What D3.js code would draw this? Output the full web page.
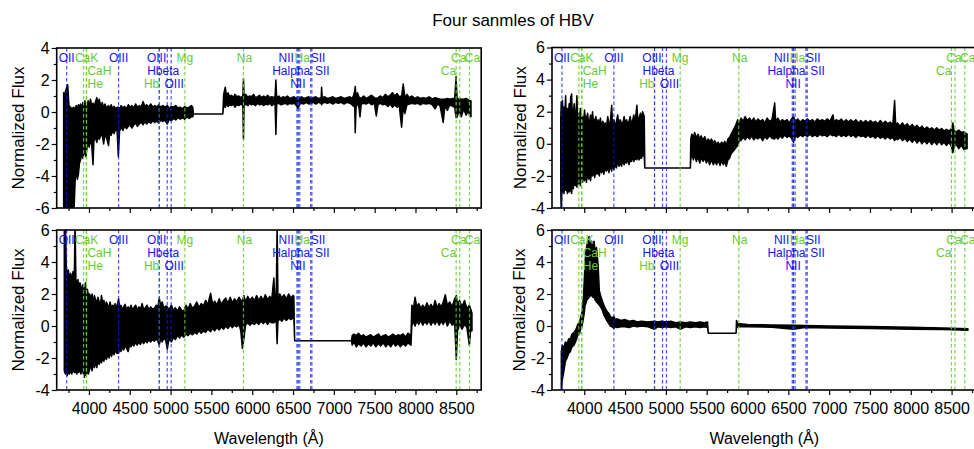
<!DOCTYPE html>
<html>
<head>
<meta charset="utf-8">
<script src="https://cdn.jsdelivr.net/npm/d3@7"></script>
<style>
body { margin: 0; background: #fff; }
svg { display: block; font-family: "Liberation Sans", Arial, sans-serif; }
</style>
</head>
<body>
<svg id="chart" width="974" height="449"></svg>
<script>
"use strict";

// line markers: [label, wavelength]
var blueLines = [
	["OII", 3727], ["OIII", 4363], ["Hbeta", 4861], ["OIII", 4959], ["OIII", 5007],
	["NII", 6548], ["Halpha", 6563], ["NII", 6583], ["SII", 6716], ["SII", 6731]
];
var greenLines = [
	["CaK", 3934], ["CaH", 3969], ["He", 3970], ["Hb", 4861], ["Mg", 5175],
	["Na", 5893], ["Ha", 6563], ["Ca", 8498], ["Ca", 8542], ["Ca", 8662]
];
// label placement: [row, anchor, nudge]
var bluePlace = [
	[0, "middle", 0], [0, "middle", 0], [1, "middle", 4], [0, "end", -1], [2, "middle", 3],
	[0, "end", -3], [1, "middle", -7], [2, "middle", -2], [0, "start", 0], [1, "start", 3]
];
var greenPlace = [
	[0, "middle", 3], [1, "start", 1], [2, "start", 1], [2, "end", 0], [0, "middle", 0],
	[0, "middle", 1], [0, "middle", 4], [1, "end", 0], [0, "middle", -1], [0, "middle", 3]
];

var xMajor = [4000, 4500, 5000, 5500, 6000, 6500, 7000, 7500, 8000, 8500];
var xMinor = [3750, 4250, 4750, 5250, 5750, 6250, 6750, 7250, 7750, 8250, 8750];

// spectra: [wavelength, lower envelope, upper envelope]
var specA = [
	[3690, -6.5, 1.2], [3700, -6.5, 0.9], [3712, -6.5, 1.3], [3740, -6.5, 1.7], [3755, -6.5, 0.4],
	[3790, -6.5, 0.2], [3815, -6.5, 0.3], [3830, -4.4, 0.1], [3843, -3.6, 0.4], [3858, -4.2, 0.2],
	[3871, -3.9, 0.45], [3884, -3.2, 0.3], [3897, -3.0, 0.5], [3912, -2.6, 0.2], [3925, -2.9, 0.6],
	[3936, -2.7, 0.35], [3951, -2.3, 0.7], [3963, -2.8, 0.25], [3977, -2.2, 0.45], [3991, -2.0, 0.7],
	[4004, -2.2, 0.3], [4019, -1.8, 0.8], [4033, -2.0, 0.4], [4050, -3.3, 0.55], [4061, -1.8, 0.3],
	[4078, -1.6, 0.6], [4097, -1.9, 0.9], [4112, -1.5, 0.5], [4126, -1.7, 0.8], [4144, -1.5, 0.35],
	[4162, -1.4, 0.6], [4180, -2.0, 0.3], [4197, -1.35, 0.5], [4214, -1.6, 0.25], [4240, -2.1, 0.4],
	[4255, -1.3, 0.2], [4273, -1.45, 0.45], [4290, -1.15, 0.2], [4308, -1.35, 0.35], [4327, -1.1, 0.2],
	[4345, -1.2, 0.3], [4360, -2.8, 0.3], [4375, -1.2, 0.2], [4394, -0.95, 0.4], [4416, -1.15, 0.25],
	[4437, -0.85, 0.35], [4460, -1.05, 0.2], [4482, -0.9, 0.45], [4503, -0.8, 0.3], [4526, -1.0, 0.4],
	[4550, -0.8, 0.25], [4571, -0.7, 0.5], [4594, -0.9, 0.3], [4617, -0.75, 0.4], [4640, -0.65, 0.3],
	[4663, -0.8, 0.65], [4686, -0.6, 0.35], [4708, -0.75, 0.45], [4731, -0.6, 0.3], [4757, -0.7, 0.5],
	[4782, -0.55, 0.3], [4806, -0.65, 0.4], [4830, -0.55, 0.3], [4855, -0.7, 0.45], [4880, -0.5, 0.3],
	[4905, -0.6, 0.4], [4930, -0.5, 0.3], [4960, -0.75, 0.4], [4984, -0.45, 0.25], [5010, -0.55, 0.35],
	[5036, -0.4, 0.3], [5063, -0.5, 0.4], [5090, -0.35, 0.25], [5118, -0.45, 0.3], [5145, -0.35, 0.2],
	[5172, -0.45, 0.35], [5200, -0.3, 0.25], [5228, -0.4, 0.3], [5255, -0.3, 0.4], [5272, -0.3, 0.3],
	[5280, -0.12, -0.12], [5640, -0.12, -0.12],
	[5650, 0.4, 1.1], [5670, 0.3, 1.55], [5685, 0.5, 1.0], [5704, 0.35, 1.2], [5722, 0.45, 0.95],
	[5745, 0.4, 1.05], [5770, 0.5, 0.9], [5788, 0.3, 1.1], [5812, 0.45, 0.95], [5836, 0.4, 1.0],
	[5860, 0.5, 0.9], [5885, 0.4, 1.0], [5893, -1.7, 2.1], [5900, 0.4, 1.0], [5922, 0.5, 1.1],
	[5948, 0.4, 0.9], [5966, 0.55, 1.0], [5990, 0.45, 0.95], [6017, 0.5, 1.1], [6040, 0.4, 0.9],
	[6066, 0.55, 0.95], [6088, 0.45, 1.05], [6115, 0.5, 0.9], [6140, 0.4, 1.0], [6163, 0.5, 0.9],
	[6190, 0.45, 1.05], [6214, 0.55, 0.9], [6240, 0.4, 0.95], [6266, 0.5, 0.9], [6280, 0.45, 1.0],
	[6290, -1.4, 2.0], [6300, 0.5, 0.9], [6326, 0.55, 1.0], [6352, 0.45, 0.85], [6377, 0.5, 0.95],
	[6405, 0.55, 0.9], [6432, 0.45, 1.0], [6458, 0.55, 0.85], [6485, 0.5, 0.9], [6512, 0.55, 0.95],
	[6540, 0.4, 0.85], [6563, 0.2, 0.95], [6582, 0.5, 0.85], [6605, 0.55, 0.95], [6633, 0.5, 0.85],
	[6662, 0.6, 0.9], [6691, 0.5, 0.95], [6720, 0.55, 0.85], [6748, 0.6, 0.9], [6778, 0.5, 0.95],
	[6810, 0.6, 0.85], [6845, 0.55, 0.9], [6850, 0.45, 1.55], [6858, 0.55, 0.9], [6888, 0.6, 0.95],
	[6921, 0.55, 0.85], [6955, 0.6, 0.9], [6988, 0.5, 0.95], [7020, 0.6, 0.85], [7055, 0.55, 0.9],
	[7090, 0.6, 0.95], [7125, 0.5, 0.85], [7160, 0.6, 0.9], [7195, 0.55, 0.95], [7225, 0.45, 0.85],
	[7242, 0.35, 1.05], [7255, 0.5, 1.3], [7262, -1.3, 1.6], [7272, 0.3, 0.9], [7290, 0.5, 1.2],
	[7305, 0.4, 0.95], [7320, -0.3, 0.9], [7336, 0.5, 0.85], [7365, 0.55, 1.0], [7395, 0.5, 0.85],
	[7430, 0.6, 0.95], [7462, 0.45, 1.05], [7495, 0.55, 0.9], [7520, -0.25, 0.85], [7540, 0.45, 0.9],
	[7568, 0.55, 1.0], [7600, 0.45, 0.9], [7630, 0.5, 1.1], [7662, 0.35, 0.95], [7690, 0.5, 1.05],
	[7718, 0.3, 1.2], [7745, 0.45, 1.0], [7775, 0.3, 1.15], [7800, 0.45, 0.95], [7830, -0.95, 1.0],
	[7850, 0.3, 1.75], [7870, -0.1, 0.9], [7895, 0.45, 1.1], [7925, 0.5, 0.9], [7958, 0.55, 1.0],
	[7990, 0.5, 0.85], [8025, 0.55, 0.95], [8060, 0.45, 0.85], [8095, 0.55, 0.9], [8130, 0.5, 0.85],
	[8168, 0.55, 0.95], [8205, 0.45, 0.8], [8240, 0.2, 0.9], [8270, 0.5, 0.85], [8300, 0.4, 0.8],
	[8340, -0.65, 0.8], [8360, 0.4, 0.8], [8390, 0.1, 0.85], [8420, 0.45, 0.8], [8455, 0.35, 0.85],
	[8480, 0.3, 0.8], [8497, -0.35, 2.2], [8510, -0.3, 0.75], [8535, 0.1, 0.85], [8562, -0.3, 0.8],
	[8590, 0.2, 0.8], [8620, -0.2, 0.85], [8650, 0.1, 0.75], [8662, -0.2, 0.7], [8680, -0.3, 0.7]
];
var specB = [
	[3712, -2.8, 1.5], [3718, -4.2, 2.6], [3726, -2.9, 2.1], [3733, -3.0, 2.7], [3742, -2.4, 1.4],
	[3751, -3.1, 2.3], [3763, -2.6, 1.9], [3772, -2.9, 3.0], [3781, -2.8, 1.6], [3795, -3.1, 2.2],
	[3803, -2.5, 1.5], [3815, -3.0, 2.5], [3822, -2.7, 1.8], [3834, -2.9, 2.9], [3846, -3.1, 3.1],
	[3853, -2.4, 1.7], [3866, -2.8, 2.0], [3877, -2.3, 2.5], [3889, -2.6, 1.5], [3900, -2.4, 2.0],
	[3910, -2.7, 3.0], [3918, -2.2, 1.6], [3933, -2.5, 1.9], [3945, -2.0, 1.3], [3952, -2.6, 2.2],
	[3968, -2.1, 1.5], [3979, -2.4, 1.7], [3992, -2.0, 1.3], [4003, -2.3, 2.1], [4018, -1.9, 1.4],
	[4027, -2.4, 1.6], [4041, -1.8, 1.9], [4055, -2.2, 1.2], [4068, -1.9, 1.5], [4077, -2.3, 1.8],
	[4092, -1.7, 1.3], [4101, -2.0, 2.0], [4117, -1.8, 1.2], [4129, -2.1, 1.5], [4143, -1.6, 1.7],
	[4156, -1.9, 1.1], [4171, -1.7, 1.5], [4185, -2.0, 1.2], [4198, -1.5, 1.6], [4212, -1.8, 1.0],
	[4227, -1.6, 1.4], [4240, -1.9, 1.2], [4256, -1.4, 1.3], [4270, -1.7, 1.0], [4288, -1.5, 1.7],
	[4303, -1.8, 1.2], [4320, -1.3, 1.4], [4336, -1.7, 2.4], [4347, -1.2, 1.2], [4362, -1.6, 1.5],
	[4380, -1.3, 1.1], [4394, -1.5, 1.4], [4410, -1.1, 1.8], [4426, -1.4, 1.1], [4440, -1.2, 1.5],
	[4457, -1.4, 1.3], [4470, -1.0, 1.2], [4488, -1.3, 1.7], [4502, -1.1, 1.3], [4519, -1.2, 1.5],
	[4531, -0.9, 1.2], [4549, -1.3, 1.4], [4563, -1.0, 1.7], [4578, -1.1, 1.2], [4590, -0.8, 1.4],
	[4607, -1.1, 1.8], [4622, -0.9, 1.3], [4645, -1.0, 2.4], [4658, -0.7, 1.4], [4672, -1.0, 1.6],
	[4689, -0.8, 1.9], [4700, -0.9, 1.5], [4715, -0.7, 2.0], [4735, -0.8, 1.7],
	[4742, -1.5, -1.5], [5300, -1.5, -1.5],
	[5305, -1.0, 0.3], [5318, -0.6, 0.6], [5337, -1.0, 0.4], [5352, -0.7, 0.7], [5374, -1.1, 0.35],
	[5393, -0.8, 0.6], [5415, -1.2, 0.3], [5431, -0.85, 0.5], [5455, -1.1, 0.25], [5477, -0.9, 0.45],
	[5496, -1.2, 0.1], [5518, -0.95, 0.3], [5535, -1.3, 0.15], [5559, -1.0, 0.3], [5582, -1.3, 0.0],
	[5598, -1.05, 0.2], [5621, -1.3, -0.05], [5640, -1.0, 0.1], [5663, -1.35, -0.1], [5680, -1.05, 0.1],
	[5703, -1.3, 0.0], [5722, -1.1, 0.15], [5740, -1.4, -0.1], [5760, -1.0, 0.3], [5780, -0.9, 0.4],
	[5800, -0.6, 0.6], [5820, -0.5, 0.8], [5850, -0.3, 1.1], [5880, -0.1, 1.5], [5900, 0.2, 1.3],
	[5920, 0.2, 1.6], [5946, 0.4, 1.4], [5971, 0.25, 1.7], [5995, 0.45, 1.45], [6025, 0.3, 1.6],
	[6049, 0.5, 1.4], [6077, 0.25, 1.6], [6100, 0.4, 1.35], [6128, 0.3, 1.55], [6156, 0.45, 1.4],
	[6185, 0.2, 1.5], [6213, 0.45, 1.3], [6240, 0.3, 1.6], [6270, 0.5, 1.4], [6300, 0.35, 1.5],
	[6333, 0.3, 2.55], [6345, 0.45, 1.4], [6372, 0.3, 1.6], [6398, 0.5, 1.35], [6425, 0.35, 1.5],
	[6455, 0.55, 1.4], [6484, 0.4, 1.5], [6512, 0.5, 1.3], [6540, 0.35, 1.55], [6563, 0.1, 1.7],
	[6588, 0.5, 1.4], [6615, 0.4, 1.55], [6646, 0.55, 1.35], [6676, 0.45, 1.5], [6703, 0.55, 1.4],
	[6735, 0.45, 1.55], [6762, 0.6, 1.4], [6795, 0.45, 1.5], [6826, 0.55, 1.35], [6855, 0.45, 1.55],
	[6887, 0.6, 1.4], [6914, 0.5, 1.5], [6946, 0.55, 1.4], [6975, 0.45, 1.55], [7010, 0.6, 1.4],
	[7047, 0.5, 1.8], [7060, 0.55, 1.35], [7088, 0.45, 1.5], [7118, 0.6, 1.4], [7149, 0.45, 1.55],
	[7176, 0.55, 1.35], [7208, 0.45, 1.5], [7238, 0.6, 1.35], [7266, 0.45, 1.5], [7298, 0.55, 1.35],
	[7327, 0.4, 1.5], [7359, 0.55, 1.3], [7388, 0.45, 1.45], [7418, 0.5, 1.3], [7447, 0.4, 1.45],
	[7478, 0.55, 1.3], [7506, 0.4, 1.45], [7537, 0.5, 1.3], [7565, 0.35, 1.4], [7598, 0.5, 1.25],
	[7627, 0.35, 1.45], [7656, 0.45, 1.25], [7688, 0.3, 1.4], [7717, 0.45, 1.25], [7748, 0.3, 1.35],
	[7780, 0.4, 1.2], [7802, 0.2, 2.7], [7815, 0.35, 1.15], [7838, 0.25, 1.3], [7866, 0.4, 1.1],
	[7897, 0.2, 1.3], [7928, 0.35, 1.1], [7955, 0.15, 1.25], [7987, 0.3, 1.05], [8018, 0.1, 1.2],
	[8046, 0.3, 1.0], [8077, 0.05, 1.15], [8108, 0.25, 0.95], [8137, 0.0, 1.1], [8168, 0.2, 0.9],
	[8197, 0.0, 1.05], [8228, 0.2, 0.9], [8257, -0.05, 1.0], [8288, 0.15, 0.85], [8318, -0.05, 1.0],
	[8347, 0.15, 0.85], [8378, -0.05, 0.95], [8408, 0.1, 0.8], [8437, -0.1, 0.9], [8468, 0.1, 0.8],
	[8500, -0.2, 0.95], [8515, -0.55, 1.3], [8530, -0.2, 0.8], [8558, -0.05, 0.75], [8588, -0.3, 0.85],
	[8618, -0.1, 0.7], [8650, -0.35, 0.75], [8690, -0.3, 0.6]
];
var specC = [
	[3698, -2.8, 6.5], [3712, -3.0, 6.5], [3722, -2.6, 3.8], [3735, -3.1, 3.0], [3748, -2.7, 3.5],
	[3760, -3.0, 2.8], [3775, -2.8, 3.3], [3790, -3.0, 2.9], [3805, -2.7, 3.4], [3820, -2.9, 2.7],
	[3830, -2.9, 6.5], [3840, -2.8, 3.0], [3851, -3.0, 2.4], [3866, -2.6, 2.9], [3874, -2.9, 2.2],
	[3889, -2.7, 2.7], [3902, -3.0, 2.5], [3911, -2.7, 2.1], [3927, -2.9, 2.6], [3944, -3.2, 2.0],
	[3957, -2.7, 2.7], [3966, -3.1, 1.8], [3980, -2.8, 2.3], [3994, -3.0, 1.9], [4008, -2.7, 2.0],
	[4026, -2.5, 1.7], [4038, -2.8, 2.0], [4052, -2.4, 1.5], [4067, -2.6, 1.9], [4084, -2.3, 1.6],
	[4096, -2.6, 1.4], [4110, -2.2, 1.8], [4126, -2.4, 1.5], [4140, -2.1, 1.3], [4153, -2.3, 1.9],
	[4170, -2.0, 1.4], [4183, -2.2, 1.6], [4197, -1.9, 1.2], [4214, -2.1, 1.5], [4230, -1.8, 1.3],
	[4246, -2.0, 1.2], [4259, -1.7, 1.5], [4277, -1.9, 1.1], [4292, -1.6, 1.3], [4308, -1.8, 1.2],
	[4322, -1.5, 1.4], [4340, -1.7, 1.1], [4363, -1.7, 1.7], [4378, -1.4, 1.1], [4392, -1.6, 1.3],
	[4410, -1.3, 1.0], [4425, -1.5, 1.2], [4443, -1.2, 1.35], [4461, -1.4, 1.0], [4480, -1.6, 1.2],
	[4497, -1.2, 1.05], [4516, -1.3, 1.3], [4533, -1.1, 1.0], [4550, -1.25, 1.15], [4572, -1.0, 1.3],
	[4590, -1.2, 1.0], [4611, -1.0, 1.2], [4630, -1.15, 1.05], [4652, -0.95, 1.4], [4671, -1.1, 1.0],
	[4690, -0.9, 1.15], [4712, -1.05, 1.3], [4735, -0.85, 1.0], [4755, -1.0, 1.2], [4778, -0.85, 1.05],
	[4800, -0.95, 1.1], [4825, -0.8, 1.3], [4845, -0.95, 1.2], [4861, -1.2, 1.75], [4878, -0.8, 1.3],
	[4897, -1.0, 1.5], [4918, -0.75, 1.1], [4940, -0.9, 1.25], [4960, -1.45, 1.2], [4980, -0.8, 1.0],
	[5010, -1.0, 1.3], [5035, -0.7, 0.95], [5058, -0.85, 1.15], [5084, -0.6, 0.9], [5110, -0.75, 1.2],
	[5133, -0.55, 1.0], [5160, -0.7, 0.9], [5188, -0.5, 1.3], [5215, -0.6, 1.05], [5240, -0.45, 1.4],
	[5268, -0.55, 1.1], [5295, -0.4, 1.25], [5320, -0.5, 1.5], [5348, -0.3, 1.15], [5375, -0.45, 1.4],
	[5402, -0.3, 1.25], [5430, -0.4, 1.6], [5455, -0.2, 1.3], [5490, -0.35, 2.05], [5515, -0.15, 1.35],
	[5540, -0.3, 1.55], [5568, -0.1, 1.3], [5595, -0.25, 1.7], [5622, -0.05, 1.35], [5650, -0.2, 1.6],
	[5676, 0.0, 1.75], [5703, -0.15, 1.4], [5730, 0.05, 1.8], [5756, -0.1, 1.45], [5783, 0.05, 1.7],
	[5810, -0.05, 1.5], [5838, 0.1, 1.8], [5860, -0.3, 1.6], [5880, -1.4, 1.6], [5898, -0.8, 1.9],
	[5918, 0.05, 1.5], [5945, 0.2, 1.85], [5972, 0.05, 1.6], [6000, 0.2, 1.8], [6026, 0.1, 1.55],
	[6053, 0.25, 1.9], [6080, 0.1, 1.6], [6108, 0.3, 1.85], [6135, 0.15, 1.6], [6160, 0.3, 1.95],
	[6188, 0.1, 1.65], [6215, 0.3, 1.85], [6240, 0.2, 1.7], [6265, 0.2, 3.0], [6280, 0.3, 1.7],
	[6295, 0.25, 1.9], [6305, -1.1, 6.5], [6315, 0.3, 1.8], [6338, 0.45, 2.0], [6362, 0.3, 1.75],
	[6390, 0.5, 1.95], [6418, 0.35, 1.7], [6447, 0.5, 2.0], [6475, 0.4, 1.75], [6500, 0.5, 1.9],
	[6510, 0.45, 1.85],
	[6520, -0.92, -0.92], [7215, -0.92, -0.92],
	[7225, -1.2, -0.6], [7247, -1.0, -0.5], [7276, -1.3, -0.6], [7302, -1.1, -0.45], [7334, -1.25, -0.65],
	[7361, -1.05, -0.55], [7395, -1.3, -0.7], [7425, -1.1, -0.6], [7452, -1.25, -0.55], [7486, -1.05, -0.7],
	[7514, -1.3, -0.6], [7548, -1.1, -0.5], [7573, -1.25, -0.7], [7606, -1.05, -0.6], [7637, -1.3, -0.55],
	[7664, -1.1, -0.7], [7697, -1.3, -0.6], [7725, -1.05, -0.5], [7758, -1.25, -0.65], [7786, -1.1, -0.55],
	[7815, -1.3, -0.6], [7848, -1.1, -0.5], [7877, -1.25, -0.7], [7908, -1.05, -0.45], [7945, -1.2, -0.6],
	[7955, 0.0, 1.3], [7975, 0.3, 1.1], [7995, 0.0, 1.8], [8015, 0.3, 1.2], [8040, 0.1, 1.4],
	[8065, 0.35, 1.1], [8090, 0.05, 1.3], [8115, 0.3, 1.1], [8140, 0.1, 1.45], [8165, 0.35, 1.15],
	[8190, 0.05, 1.35], [8215, 0.3, 1.1], [8240, 0.1, 1.6], [8265, 0.35, 1.15], [8290, 0.05, 1.4],
	[8315, 0.3, 1.2], [8340, 0.1, 1.5], [8365, 0.4, 1.95], [8390, 0.0, 1.3], [8420, 0.3, 1.5],
	[8450, 0.05, 1.2], [8480, 0.2, 1.7], [8500, -2.1, 1.9], [8515, -0.3, 1.3], [8540, 0.1, 1.6],
	[8570, -0.2, 1.2], [8600, 0.1, 1.6], [8630, -0.1, 1.1], [8660, -1.2, 1.3], [8680, 0.0, 1.0],
	[8692, -0.3, 0.8]
];
var specD = [
	[3719, -4.2, -1.6], [3730, -3.4, -1.2], [3745, -3.0, -1.4], [3770, -2.2, -1.0], [3790, -2.0, -1.1],
	[3810, -1.7, -0.8], [3830, -1.6, -0.8], [3850, -1.3, -0.5], [3875, -1.2, -0.4], [3900, -0.9, -0.2],
	[3920, -0.6, 0.1], [3940, -0.5, 0.2], [3955, -0.2, 0.5], [3970, -0.1, 0.8], [3990, 0.5, 1.8],
	[4000, 0.8, 2.8], [4010, 1.3, 4.0], [4020, 1.4, 4.6], [4030, 1.6, 5.0], [4045, 1.7, 5.3],
	[4060, 1.8, 5.6], [4075, 1.9, 5.0], [4090, 1.9, 5.3], [4105, 1.8, 4.9], [4120, 1.8, 5.3],
	[4135, 1.6, 4.6], [4150, 1.5, 4.9], [4170, 1.4, 3.8], [4185, 1.3, 2.2], [4200, 1.2, 1.9],
	[4220, 1.0, 1.6], [4240, 0.7, 1.3], [4260, 0.5, 1.1], [4280, 0.3, 0.9], [4300, 0.15, 0.8],
	[4320, 0.0, 0.6], [4340, -0.05, 0.5], [4363, -0.15, 0.6], [4380, -0.05, 0.4], [4400, -0.1, 0.45],
	[4450, -0.05, 0.35], [4500, -0.05, 0.4], [4550, -0.1, 0.3], [4600, 0.0, 0.35], [4650, -0.05, 0.25],
	[4700, 0.0, 0.3], [4780, -0.05, 0.25], [4861, -0.2, 0.3], [4900, -0.05, 0.25], [4950, -0.1, 0.3],
	[5000, -0.05, 0.25], [5060, -0.1, 0.3], [5120, -0.05, 0.2], [5175, -0.2, 0.25], [5240, -0.05, 0.2],
	[5300, -0.1, 0.25], [5360, -0.05, 0.2], [5420, -0.1, 0.25], [5470, -0.05, 0.2], [5510, -0.1, 0.25],
	[5520, -0.45, -0.45], [5860, -0.45, -0.45],
	[5865, -0.1, 0.35], [5880, -0.05, 0.15], [6000, -0.05, 0.1], [6300, -0.08, 0.07], [6563, -0.2, 0.05],
	[6700, -0.1, 0.03], [7000, -0.12, 0.0], [7500, -0.15, -0.03], [8000, -0.2, -0.08], [8400, -0.22, -0.12],
	[8700, -0.27, -0.17]
];

var xDomain = [3605, 8805];

var panels = [
	{ id: "a", spec: specA, yDomain: [-6, 4], left: 56.7, top: 48, width: 424.5, height: 160, xLabels: false, yLabelX: 18 },
	{ id: "b", spec: specB, yDomain: [-4, 6], left: 552, top: 47.5, width: 424.5, height: 160.5, xLabels: false, yLabelX: 520 },
	{ id: "c", spec: specC, yDomain: [-4, 6], left: 56.7, top: 230, width: 424.5, height: 160, xLabels: true, yLabelX: 18 },
	{ id: "d", spec: specD, yDomain: [-4, 6], left: 552, top: 230, width: 424.5, height: 160, xLabels: true, yLabelX: 519 }
];

var svg = d3.select("#chart");
var blue = "#1414f5",
	green = "#66cc33",
	rowY = [14, 27, 40];

var markerLines = function (g, x, p, lines, color, opacity) {
	g.selectAll(null).data(lines).enter()
		.append("line")
		.attr("x1", function (d) { return x(d[1]); })
		.attr("x2", function (d) { return x(d[1]); })
		.attr("y1", p.top)
		.attr("y2", p.top + p.height)
		.attr("stroke", color)
		.attr("stroke-opacity", opacity)
		.attr("stroke-width", 1.2)
		.attr("stroke-dasharray", "3.5,2.5");
};

var markerLabels = function (g, x, p, lines, place, color) {
	g.selectAll(null).data(lines).enter()
		.append("text")
		.attr("x", function (d, i) { return x(d[1]) + place[i][2]; })
		.attr("y", function (d, i) { return Math.round(p.top) + rowY[place[i][0]]; })
		.attr("text-anchor", function (d, i) { return place[i][1]; })
		.attr("fill", color)
		.style("font-size", "12px")
		.text(function (d) { return d[0]; });
};

var drawPanel = function (p) {
	var x = d3.scaleLinear().domain(xDomain).range([p.left, p.left + p.width]);
	var y = d3.scaleLinear().domain(p.yDomain).range([p.top + p.height, p.top]);
	var g = svg.append("g");

	svg.append("clipPath").attr("id", "clip-" + p.id)
		.append("rect")
		.attr("x", p.left).attr("y", p.top)
		.attr("width", p.width).attr("height", p.height);

	var area = d3.area()
		.x(function (d) { return x(d[0]); })
		.y0(function (d) { return y(d[1]); })
		.y1(function (d) { return y(d[2]); });

	g.append("path")
		.datum(p.spec)
		.attr("clip-path", "url(#clip-" + p.id + ")")
		.attr("d", area)
		.attr("fill", "#000")
		.attr("stroke", "#000")
		.attr("stroke-width", 1.5)
		.attr("stroke-linejoin", "round");

	markerLines(g, x, p, greenLines, green, 0.85);
	markerLines(g, x, p, blueLines, blue, 0.75);
	markerLabels(g, x, p, greenLines, greenPlace, green);
	markerLabels(g, x, p, blueLines, bluePlace, blue);

	// x axis
	var bottom = p.top + p.height;
	g.append("g").attr("transform", "translate(0," + bottom + ")")
		.call(d3.axisBottom(x).tickValues(xMajor).tickSize(5).tickPadding(8)
			.tickFormat(p.xLabels ? function (d) { return String(d); } : ""));
	g.append("g").attr("transform", "translate(0," + bottom + ")")
		.call(d3.axisBottom(x).tickValues(xMinor).tickSize(3).tickFormat(""));

	// y axis
	var yMajor = d3.range(p.yDomain[0], p.yDomain[1] + 1, 2);
	var yMinor = d3.range(p.yDomain[0] + 1, p.yDomain[1], 2);
	g.append("g").attr("transform", "translate(" + p.left + ",0)")
		.call(d3.axisLeft(y).tickValues(yMajor).tickSize(5).tickPadding(2)
			.tickFormat(function (d) { return String(d); }));
	g.append("g").attr("transform", "translate(" + p.left + ",0)")
		.call(d3.axisLeft(y).tickValues(yMinor).tickSize(3).tickFormat(""));

	g.selectAll(".domain").remove();
	g.selectAll(".tick line").attr("stroke", "#000").attr("stroke-width", 1.2);
	g.selectAll(".tick text")
		.attr("fill", "#000")
		.style("font-size", "16px")
		.style("font-family", "'Liberation Sans', Arial, sans-serif");

	g.append("rect")
		.attr("x", p.left).attr("y", p.top)
		.attr("width", p.width).attr("height", p.height)
		.attr("fill", "none")
		.attr("stroke", "#000")
		.attr("stroke-width", 1.6);

	g.append("text")
		.attr("transform", "translate(" + p.yLabelX + "," + (p.top + p.height / 2) + ") rotate(-90)")
		.attr("text-anchor", "middle")
		.attr("dy", "0.35em")
		.style("font-size", "17px")
		.text("Normalized Flux");

	if (p.xLabels) {
		g.append("text")
			.attr("x", p.left + p.width / 2)
			.attr("y", 444)
			.attr("text-anchor", "middle")
			.style("font-size", "16px")
			.text("Wavelength (\u00c5)");
	}
};

panels.forEach(drawPanel);

svg.append("text")
	.attr("x", 513)
	.attr("y", 26)
	.attr("text-anchor", "middle")
	.style("font-size", "17px")
	.text("Four sanmles of HBV");
</script>
</body>
</html>
